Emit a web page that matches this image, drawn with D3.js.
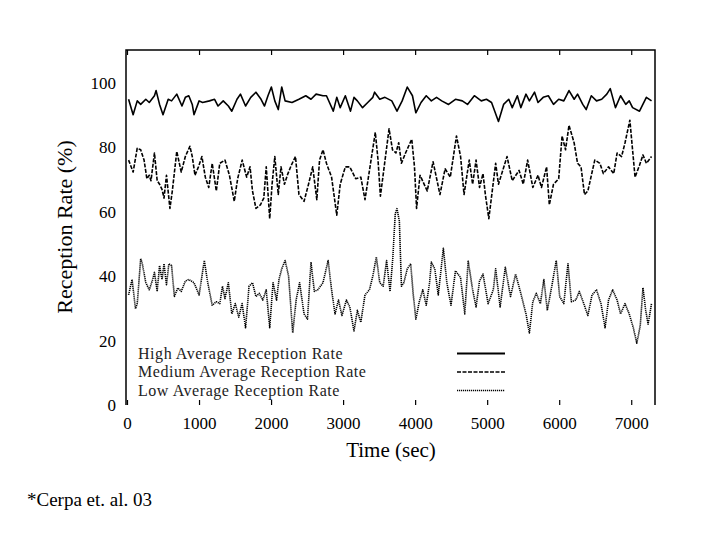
<!DOCTYPE html>
<html><head><meta charset="utf-8">
<script src="https://cdn.jsdelivr.net/npm/d3@7"></script>
<style>body{margin:0;background:#fff}svg{display:block}</style>
</head><body><svg id="c" width="720" height="540"></svg>
<script>
const highTime=[22,85,142,190,261,309,381,404,452,500,572,619,691,763,810,858,906,930,1001,1049,1145,1216,1264,1336,1407,1455,1527,1575,1646,1718,1790,1861,1909,1957,2004,2052,2100,2148,2195,2291,2387,2482,2554,2625,2721,2769,2864,2912,2960,3031,3103,3151,3198,3270,3342,3413,3437,3509,3581,3676,3748,3820,3891,3963,4010,4082,4154,4225,4297,4369,4464,4560,4655,4727,4822,4918,4990,5061,5157,5228,5300,5348,5419,5467,5539,5586,5658,5706,5778,5849,5921,5993,6064,6136,6208,6255,6327,6375,6446,6518,6590,6661,6709,6781,6852,6924,6972,7019,7115,7210,7282];
const highValues=[95.0,90.2,94.5,93.4,95.0,94.0,96.1,97.7,93.4,90.2,95.0,94.5,96.6,92.9,95.6,96.1,93.4,90.2,94.5,94.0,94.5,95.0,92.9,94.5,92.9,91.3,95.0,96.6,92.9,95.6,97.2,95.0,92.9,96.1,98.8,94.5,91.8,98.8,94.5,94.0,95.0,96.1,95.0,96.6,96.1,96.1,91.3,95.6,92.4,96.1,91.3,95.6,94.5,92.4,94.0,95.6,97.2,95.0,95.6,94.5,91.3,94.5,98.8,96.1,90.8,94.0,96.1,94.5,95.6,94.5,93.4,95.0,94.5,93.4,96.1,94.5,95.0,94.0,88.1,93.4,95.0,92.4,96.1,92.4,96.6,94.5,97.2,94.0,95.6,96.1,93.4,95.0,94.5,97.7,95.0,96.6,93.4,91.8,96.1,94.5,95.0,96.6,98.3,92.4,96.1,93.4,94.5,92.4,91.3,95.6,94.5];

const medTime=[22,85,142,190,237,276,309,333,381,419,452,486,514,548,596,629,691,753,810,873,906,944,992,1040,1087,1135,1183,1240,1288,1360,1422,1489,1536,1599,1661,1708,1742,1790,1852,1899,1933,1981,2014,2052,2100,2138,2186,2234,2281,2339,2387,2458,2520,2578,2635,2673,2721,2769,2840,2912,2960,3031,3093,3175,3246,3304,3366,3447,3485,3518,3638,3686,3733,3772,3810,3867,3953,3991,4020,4068,4168,4249,4345,4416,4488,4574,4631,4679,4751,4798,4846,4894,4942,4975,5023,5118,5157,5276,5348,5443,5501,5562,5634,5706,5754,5825,5863,5921,5993,6040,6088,6136,6207,6255,6303,6351,6398,6494,6565,6613,6685,6757,6804,6866,6914,6981,7053,7115,7163,7210,7282];
const medValues=[76.1,72.4,79.8,79.3,76.1,70.3,71.4,69.7,78.3,69.7,68.6,67.0,64.3,71.4,61.1,66.5,78.8,72.4,77.2,80.4,77.2,71.4,74.0,77.2,70.8,67.6,75.1,66.5,75.1,76.1,71.4,63.3,70.3,76.1,70.8,74.0,66.5,61.1,62.2,64.3,74.0,57.9,68.6,77.2,65.4,74.0,68.6,71.9,74.5,77.2,65.4,63.3,68.6,74.0,63.8,76.1,79.3,75.1,70.8,59.0,68.6,74.0,74.0,70.3,70.8,63.8,72.9,84.7,76.1,64.9,85.8,79.3,78.3,81.5,75.1,78.3,82.6,74.0,61.1,71.4,66.5,75.6,65.4,73.4,70.8,83.6,77.2,65.4,76.1,68.6,76.1,67.6,71.9,65.4,57.9,75.1,68.6,77.2,69.7,72.9,68.6,76.1,67.6,71.4,67.6,74.0,62.2,68.6,70.3,83.6,79.3,86.9,81.5,75.1,74.0,65.4,66.5,76.1,75.1,71.9,74.0,71.9,78.3,77.2,81.5,88.5,70.8,74.5,77.7,75.1,77.2];

const lowTime=[22,70,118,142,190,213,261,309,357,381,419,452,486,514,548,581,619,658,705,753,810,858,930,1001,1073,1121,1183,1240,1288,1326,1360,1407,1455,1503,1551,1598,1646,1694,1742,1790,1837,1885,1933,1981,2028,2076,2110,2148,2195,2243,2301,2348,2396,2458,2506,2554,2601,2649,2721,2792,2840,2888,2936,2984,3046,3093,3151,3198,3246,3304,3366,3413,3461,3509,3557,3604,3652,3690,3724,3748,3781,3810,3843,3891,3939,3972,4010,4058,4106,4154,4201,4225,4273,4321,4392,4440,4498,4560,4631,4689,4736,4798,4846,4894,4942,5013,5085,5118,5180,5252,5324,5395,5467,5539,5586,5634,5682,5739,5787,5835,5897,5959,6007,6064,6122,6169,6231,6279,6341,6398,6456,6518,6580,6637,6685,6742,6804,6852,6914,6972,7029,7077,7125,7163,7201,7234,7282];
const lowValues=[34.2,39.0,29.9,31.5,45.5,43.9,38.0,35.8,39.0,41.2,35.3,43.3,39.0,43.9,37.4,43.9,43.3,33.7,36.4,35.3,38.5,39.0,38.0,34.2,44.9,38.0,31.0,32.1,31.5,36.9,33.1,38.0,28.3,31.5,27.3,31.5,24.0,36.9,38.0,33.7,34.7,32.6,35.8,24.0,38.0,32.6,39.0,42.3,44.9,40.1,22.4,32.6,38.0,28.3,26.7,44.4,35.3,35.8,38.0,44.9,35.8,28.3,32.6,27.8,32.6,30.5,23.0,29.4,25.7,34.2,35.8,40.1,46.0,38.0,36.9,44.9,35.3,45.5,59.4,61.0,57.2,36.9,38.0,42.3,43.9,34.7,26.7,32.1,35.8,31.0,38.0,44.4,42.3,34.2,48.7,38.0,31.0,41.7,39.6,28.3,44.9,35.8,30.5,38.5,40.7,31.5,35.8,42.3,30.5,42.8,33.7,40.7,34.7,28.3,22.4,32.1,34.7,31.5,39.0,29.4,36.9,44.9,33.7,31.5,43.9,32.1,32.6,35.3,31.5,27.8,34.2,35.8,31.5,24.0,32.6,35.8,32.6,28.3,31.5,28.3,24.0,19.2,24.6,36.4,29.4,25.1,31.5];

const xTicks=[0,1000,2000,3000,4000,5000,6000,7000];
const yTicks=[0,20,40,60,80,100];
const seriesNames=["High Average Reception Rate","Medium Average Reception Rate","Low Average Reception Rate"];
const xTitle="Time (sec)";
const yTitle="Reception Rate (%)";
const footnote="*Cerpa et. al. 03";

const FONT='"Liberation Serif","Times New Roman",serif';
const svg=d3.select("#c");
const x=d3.scaleLinear().domain([0,7330]).range([127,655]);
const y=d3.scaleLinear().domain([0,110]).range([405,51]);

// frame
const frame=svg.append("g").attr("stroke","#000").attr("stroke-width",1.5).attr("fill","none");
frame.append("path").attr("d",`M${x.range()[0]-1},${y(0)}V50H${x.range()[1]}V${y(0)}`);

// bottom axis (labels + inward ticks)
const xa=svg.append("g").attr("transform",`translate(0,${y(0)})`)
  .call(d3.axisBottom(x).tickValues(xTicks).tickFormat(d3.format("d")).tickSizeInner(-5).tickSizeOuter(0).tickPadding(12));
xa.select(".domain").remove();
xa.selectAll("text").attr("font-family",FONT).attr("font-size",17).attr("fill","#000");
xa.selectAll("line").attr("stroke","#000").attr("stroke-width",1.2);

// top inward ticks
const xt=svg.append("g").attr("transform","translate(0,50)")
  .call(d3.axisTop(x).tickValues(xTicks).tickFormat("").tickSizeInner(-5).tickSizeOuter(0));
xt.select(".domain").remove();
xt.selectAll("line").attr("stroke","#000").attr("stroke-width",1.2);

// left labels
const ya=svg.append("g").attr("transform",`translate(126,0)`)
  .call(d3.axisLeft(y).tickValues(yTicks).tickSize(0).tickPadding(10));
ya.select(".domain").remove();
ya.selectAll("text").attr("font-family",FONT).attr("font-size",17).attr("fill","#000");

// titles
svg.append("text").attr("x",391).attr("y",457).attr("text-anchor","middle")
  .attr("font-family",FONT).attr("font-size",21).text(xTitle);
svg.append("text").attr("transform","translate(72,227) rotate(-90)").attr("text-anchor","middle")
  .attr("font-family",FONT).attr("font-size",22).text(yTitle);

// series
const line=d3.line().x(d=>x(d[0])).y(d=>y(d[1]));
const styles=[{dash:null,w:1.6},{dash:"4,1.5",w:1.6},{dash:"1.2,0.8",w:1.6}];
const series=[d3.zip(highTime,highValues),d3.zip(medTime,medValues),d3.zip(lowTime,lowValues)];
series.forEach((s,i)=>{
  svg.append("path").datum(s).attr("d",line).attr("fill","none").attr("stroke","#000")
    .attr("stroke-width",styles[i].w).attr("stroke-dasharray",styles[i].dash).attr("stroke-linejoin","round");
});

// legend
const lg=svg.append("g");
seriesNames.forEach((n,i)=>{
  const cy=353.5+i*18.5;
  lg.append("text").attr("x",138).attr("y",cy+5).attr("font-family",FONT).attr("font-size",16)
    .attr("letter-spacing",0.55).attr("fill","#222").text(n);
  lg.append("line").attr("x1",457).attr("x2",505).attr("y1",cy).attr("y2",cy).attr("stroke","#000")
    .attr("stroke-width",i===0?2:1.5).attr("stroke-dasharray",styles[i].dash);
});

// footnote
svg.append("text").attr("x",27).attr("y",506).attr("font-family",FONT).attr("font-size",19).text(footnote);
</script></body></html>
